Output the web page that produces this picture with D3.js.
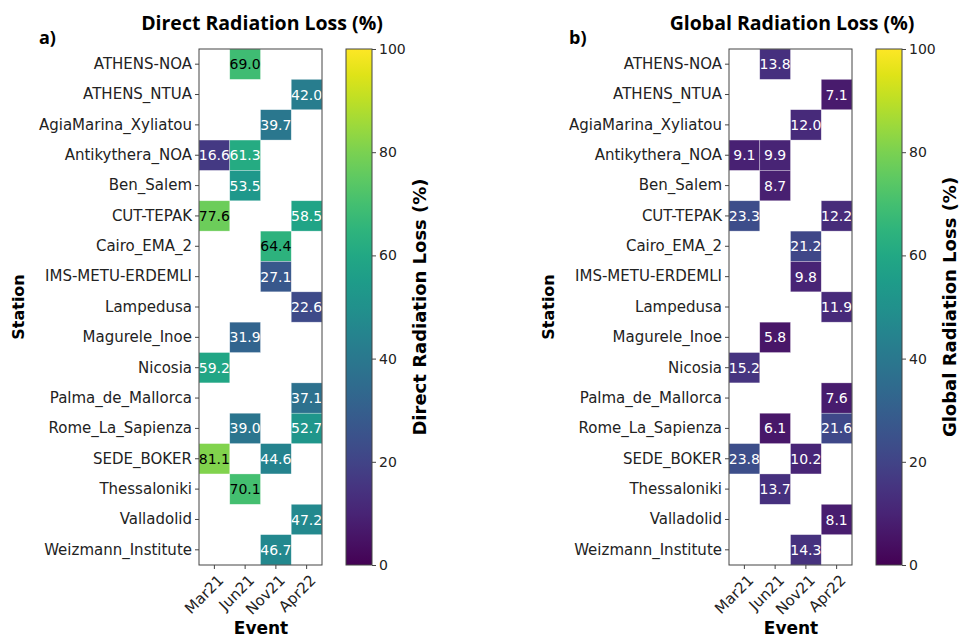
<!DOCTYPE html>
<meta charset="utf-8">
<title>Radiation Loss</title>
<style>
  body { margin: 0; background: #fff; }
  text { font-family: 'DejaVu Sans', sans-serif; fill: #222; }
  .title { font-family: 'Open Sans', sans-serif; font-weight: bold; font-size: 19.5px; fill: #000; }
  .panel { font-family: 'Open Sans', sans-serif; font-weight: bold; font-size: 18px; fill: #000; }
  .axlabel { font-weight: bold; font-size: 16px; fill: #000; }
  .tick text { font-size: 15px; fill: #222; }
  .cb .tick text { font-size: 14px; }
  .domain { stroke: #444; }
  .tick line { stroke: #444; }
</style>
<body>
<svg width="959" height="635"></svg>
<script src="https://cdn.jsdelivr.net/npm/d3@7"></script>
<script>

var stations = ["ATHENS-NOA", "ATHENS_NTUA", "AgiaMarina_Xyliatou", "Antikythera_NOA", "Ben_Salem",
  "CUT-TEPAK", "Cairo_EMA_2", "IMS-METU-ERDEMLI", "Lampedusa", "Magurele_Inoe", "Nicosia",
  "Palma_de_Mallorca", "Rome_La_Sapienza", "SEDE_BOKER", "Thessaloniki", "Valladolid", "Weizmann_Institute"];
var events = ["Mar21", "Jun21", "Nov21", "Apr22"];
var cbTicks = [0, 20, 40, 60, 80, 100];

// [station, event, value]
var directLoss = [
  ["ATHENS-NOA", "Jun21", 69.0],
  ["ATHENS_NTUA", "Apr22", 42.0],
  ["AgiaMarina_Xyliatou", "Nov21", 39.7],
  ["Antikythera_NOA", "Mar21", 16.6],
  ["Antikythera_NOA", "Jun21", 61.3],
  ["Ben_Salem", "Jun21", 53.5],
  ["CUT-TEPAK", "Mar21", 77.6],
  ["CUT-TEPAK", "Apr22", 58.5],
  ["Cairo_EMA_2", "Nov21", 64.4],
  ["IMS-METU-ERDEMLI", "Nov21", 27.1],
  ["Lampedusa", "Apr22", 22.6],
  ["Magurele_Inoe", "Jun21", 31.9],
  ["Nicosia", "Mar21", 59.2],
  ["Palma_de_Mallorca", "Apr22", 37.1],
  ["Rome_La_Sapienza", "Jun21", 39.0],
  ["Rome_La_Sapienza", "Apr22", 52.7],
  ["SEDE_BOKER", "Mar21", 81.1],
  ["SEDE_BOKER", "Nov21", 44.6],
  ["Thessaloniki", "Jun21", 70.1],
  ["Valladolid", "Apr22", 47.2],
  ["Weizmann_Institute", "Nov21", 46.7]
];

var globalLoss = [
  ["ATHENS-NOA", "Jun21", 13.8],
  ["ATHENS_NTUA", "Apr22", 7.1],
  ["AgiaMarina_Xyliatou", "Nov21", 12.0],
  ["Antikythera_NOA", "Mar21", 9.1],
  ["Antikythera_NOA", "Jun21", 9.9],
  ["Ben_Salem", "Jun21", 8.7],
  ["CUT-TEPAK", "Mar21", 23.3],
  ["CUT-TEPAK", "Apr22", 12.2],
  ["Cairo_EMA_2", "Nov21", 21.2],
  ["IMS-METU-ERDEMLI", "Nov21", 9.8],
  ["Lampedusa", "Apr22", 11.9],
  ["Magurele_Inoe", "Jun21", 5.8],
  ["Nicosia", "Mar21", 15.2],
  ["Palma_de_Mallorca", "Apr22", 7.6],
  ["Rome_La_Sapienza", "Jun21", 6.1],
  ["Rome_La_Sapienza", "Apr22", 21.6],
  ["SEDE_BOKER", "Mar21", 23.8],
  ["SEDE_BOKER", "Nov21", 10.2],
  ["Thessaloniki", "Jun21", 13.7],
  ["Valladolid", "Apr22", 8.1],
  ["Weizmann_Institute", "Nov21", 14.3]
];

var svg = d3.select("svg");
var color = d3.scaleSequential(d3.interpolateViridis).domain([0, 100]);

var top_ = 49, bottom_ = 565;

function panel(opt) {
  var g = svg.append("g");
  var x = d3.scaleBand().domain(events).range([opt.x0, opt.x0 + 123]);
  var y = d3.scaleBand().domain(stations).range([top_, bottom_]);

  g.selectAll(".cell")
    .data(opt.data).enter()
    .append("rect")
    .attr("x", function(d) { return x(d[1]); })
    .attr("y", function(d) { return y(d[0]); })
    .attr("width", x.bandwidth())
    .attr("height", y.bandwidth())
    .attr("fill", function(d) { return color(d[2]); })
    .attr("stroke", "rgba(255,255,255,0.5)")
    .attr("stroke-width", 0.6);

  g.selectAll(".val")
    .data(opt.data).enter()
    .append("text")
    .attr("x", function(d) { return x(d[1]) + x.bandwidth() / 2; })
    .attr("y", function(d) { return y(d[0]) + y.bandwidth() / 2; })
    .attr("dy", "0.36em")
    .attr("text-anchor", "middle")
    .style("font-size", "14px")
    .style("fill", function(d) { return d[2] > 62 ? "#000" : "#fff"; })
    .text(function(d) { return d[2].toFixed(1); });

  // frame
  g.append("rect")
    .attr("x", opt.x0).attr("y", top_)
    .attr("width", 123).attr("height", bottom_ - top_)
    .attr("fill", "none").attr("stroke", "#444").attr("stroke-width", 1);

  var ya = g.append("g").attr("transform", "translate(" + opt.x0 + ",0)")
    .call(d3.axisLeft(y).tickSize(4).tickPadding(3));
  ya.select(".domain").remove();

  var xa = g.append("g").attr("transform", "translate(0," + bottom_ + ")")
    .call(d3.axisBottom(x).tickSize(4).tickPadding(2));
  xa.select(".domain").remove();
  xa.selectAll(".tick text")
    .attr("text-anchor", "end")
    .attr("dy", null)
    .attr("transform", "translate(6,12) rotate(-45)");

  // colorbar
  var cbx = opt.x0 + 147, cbw = 26;
  var cy = d3.scaleLinear().domain([0, 100]).range([bottom_, top_]);
  var gid = "grad" + opt.id;
  var grad = svg.append("defs").append("linearGradient")
    .attr("id", gid).attr("x1", 0).attr("y1", 1).attr("x2", 0).attr("y2", 0);
  d3.range(0, 1.001, 0.05).forEach(function(t) {
    grad.append("stop").attr("offset", t).attr("stop-color", d3.interpolateViridis(t));
  });
  g.append("rect")
    .attr("x", cbx).attr("y", top_).attr("width", cbw).attr("height", bottom_ - top_)
    .attr("fill", "url(#" + gid + ")").attr("stroke", "#444").attr("stroke-width", 1);
  var ca = g.append("g").attr("class", "cb").attr("transform", "translate(" + (cbx + cbw) + ",0)")
    .call(d3.axisRight(cy).tickValues(cbTicks).tickSize(4).tickPadding(3));
  ca.select(".domain").remove();

  g.append("text").attr("class", "axlabel")
    .attr("transform", "translate(" + (cbx + 74) + "," + ((top_ + bottom_) / 2) + ") rotate(-90)")
    .attr("text-anchor", "middle").attr("dy", "0.35em")
    .style("font-size", "18px")
    .text(opt.cbLabel);

  g.append("text").attr("class", "axlabel")
    .attr("transform", "translate(" + (opt.x0 - 181) + "," + ((top_ + bottom_) / 2) + ") rotate(-90)")
    .attr("text-anchor", "middle").attr("dy", "0.35em")
    .style("font-size", "16px")
    .text("Station");

  g.append("text").attr("class", "axlabel")
    .attr("x", opt.x0 + 62).attr("y", 634)
    .attr("text-anchor", "middle")
    .style("font-size", "17px")
    .text("Event");

  g.append("text").attr("class", "title")
    .attr("x", opt.x0 + 63).attr("y", 30)
    .attr("text-anchor", "middle")
    .text(opt.title);

  g.append("text").attr("class", "panel")
    .attr("x", opt.x0 - 160).attr("y", 44)
    .text(opt.letter);
}

panel({ id: "a", x0: 199, data: directLoss, title: "Direct Radiation Loss (%)",
  cbLabel: "Direct Radiation Loss (%)", letter: "a)" });
panel({ id: "b", x0: 729, data: globalLoss, title: "Global Radiation Loss (%)",
  cbLabel: "Global Radiation Loss (%)", letter: "b)" });

</script>
</body>
